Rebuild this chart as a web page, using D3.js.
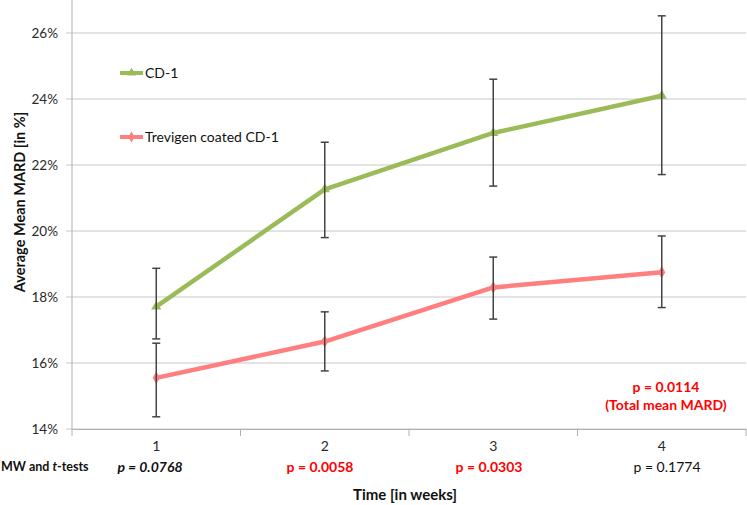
<!DOCTYPE html>
<html><head><meta charset="utf-8">
<script src="https://cdn.jsdelivr.net/npm/d3@7"></script>
<style>body{margin:0;background:#fff}svg{display:block;font-family:Lato,"Open Sans",sans-serif}</style>
</head><body><svg id="c" width="747" height="505"></svg>
<script>
const weeks = ["1","2","3","4"];
const cd1 = [17.71, 21.26, 22.97, 24.10];
const cd1High = [18.87, 22.69, 24.60, 26.52];
const cd1Low = [16.73, 19.80, 21.36, 21.71];
const trev = [15.55, 16.65, 18.29, 18.75];
const trevHigh = [16.60, 17.55, 19.21, 19.85];
const trevLow = [14.37, 15.76, 17.33, 17.68];
const yTicks = [14, 16, 18, 20, 22, 24, 26];
const pValues = ["p = 0.0768", "p = 0.0058", "p = 0.0303", "p = 0.1774"];
const pStyles = ["bi", "red", "red", "plain"];

const svg = d3.select("#c");
const x = d3.scaleBand().domain(weeks).range([72, 746]);
const y = d3.scaleLinear().domain([14, 27]).range([429, 0]);
const cx = w => x(w) + x.bandwidth() / 2;
const green = "#9bbb59", red = "#ff7f7f";

// gridlines
svg.append("g").selectAll("line").data(yTicks).join("line")
  .attr("x1", 66).attr("x2", 746).attr("y1", d => y(d)).attr("y2", d => y(d))
  .attr("stroke", "#c8c8c8").attr("stroke-width", 1);
// y axis line
svg.append("line").attr("x1", 72).attr("x2", 72).attr("y1", 0).attr("y2", 429)
  .attr("stroke", "#b0b0b0");
// y tick labels
svg.append("g").selectAll("text").data(yTicks).join("text")
  .attr("x", 58).attr("y", d => y(d)).attr("dy", "0.35em").attr("text-anchor", "end")
  .attr("font-size", 13.5).attr("fill", "#2a2a2a").text(d => d + "%");
// x axis
const xAxis = d3.axisBottom(x).tickSize(0).tickPadding(12);
const gx = svg.append("g").attr("transform", "translate(0,429)").call(xAxis);
gx.select(".domain").attr("stroke", "#b0b0b0");
gx.selectAll("text").attr("font-size", 14).attr("fill", "#2a2a2a").attr("font-family", "Lato,'Open Sans',sans-serif");
// category boundary ticks
const bounds = weeks.map(w => x(w)).concat([746]);
svg.append("g").selectAll("line").data(bounds).join("line")
  .attr("x1", d => d).attr("x2", d => d).attr("y1", 429).attr("y2", 436)
  .attr("stroke", "#b0b0b0");

// y axis title
svg.append("text").attr("transform", "translate(25,202) rotate(-90)")
  .attr("text-anchor", "middle").attr("font-size", 14.5).attr("font-weight", "bold")
  .attr("fill", "#111").text("Average Mean MARD [in %]");
// x axis title
svg.append("text").attr("x", 405).attr("y", 500).attr("text-anchor", "middle")
  .attr("font-size", 15).attr("font-weight", "bold").attr("fill", "#111").text("Time [in weeks]");

function series(vals, hi, lo, color, marker) {
  const g = svg.append("g");
  const line = d3.line().x((d, i) => cx(weeks[i])).y(d => y(d));
  g.append("path").datum(vals).attr("d", line).attr("fill", "none")
    .attr("stroke", color).attr("stroke-width", 4.5).attr("stroke-linejoin", "round");
  g.append("g").selectAll("path").data(vals).join("path")
    .attr("transform", (d, i) => `translate(${cx(weeks[i])},${y(d)})`)
    .attr("d", d3.symbol().type(marker).size(45)).attr("fill", color);
  const eb = g.append("g").attr("stroke", "#444").attr("stroke-width", 1.5);
  weeks.forEach((w, i) => {
    const X = cx(w);
    eb.append("line").attr("x1", X).attr("x2", X).attr("y1", y(hi[i])).attr("y2", y(lo[i]));
    eb.append("line").attr("x1", X - 4).attr("x2", X + 4).attr("y1", y(hi[i])).attr("y2", y(hi[i]));
    eb.append("line").attr("x1", X - 4).attr("x2", X + 4).attr("y1", y(lo[i])).attr("y2", y(lo[i]));
  });
}
series(cd1, cd1High, cd1Low, green, d3.symbolTriangle);
series(trev, trevHigh, trevLow, red, d3.symbolDiamond);

// legend
const legend = [{name: "CD-1", color: green, sym: d3.symbolTriangle, yy: 73},
                {name: "Trevigen coated CD-1", color: red, sym: d3.symbolDiamond, yy: 137}];
const lg = svg.append("g").selectAll("g").data(legend).join("g");
lg.append("line").attr("x1", 120).attr("x2", 143).attr("y1", d => d.yy).attr("y2", d => d.yy)
  .attr("stroke", d => d.color).attr("stroke-width", 4);
lg.append("path").attr("transform", d => `translate(131.5,${d.yy})`)
  .attr("d", d => d3.symbol().type(d.sym).size(35)()).attr("fill", d => d.color);
lg.append("text").attr("x", 145).attr("y", d => d.yy).attr("dy", "0.35em")
  .attr("font-size", 14).attr("fill", "#111").text(d => d.name);

// p-value row
svg.append("text").attr("x", 1).attr("y", 467).attr("dy", "0.35em").attr("font-size", 12.5)
  .attr("font-weight", "bold").attr("fill", "#111")
  .html('MW and <tspan font-style="italic">t</tspan>-tests');
const pxs = [150, 320, 489, 667];
svg.append("g").selectAll("text").data(pValues).join("text")
  .attr("x", (d, i) => pxs[i]).attr("y", 467).attr("dy", "0.35em").attr("text-anchor", "middle")
  .attr("font-size", 14)
  .attr("font-weight", (d, i) => pStyles[i] === "plain" ? "normal" : "bold")
  .attr("font-style", (d, i) => pStyles[i] === "bi" ? "italic" : "normal")
  .attr("fill", (d, i) => pStyles[i] === "red" ? "#ff0000" : "#111")
  .text(d => d);

// total annotation
svg.append("text").attr("x", 666).attr("y", 387).attr("dy", "0.35em").attr("text-anchor", "middle")
  .attr("font-size", 14).attr("font-weight", "bold").attr("fill", "#ff0000").text("p = 0.0114");
svg.append("text").attr("x", 666).attr("y", 405).attr("dy", "0.35em").attr("text-anchor", "middle")
  .attr("font-size", 14).attr("font-weight", "bold").attr("fill", "#ff0000").text("(Total mean MARD)");
</script></body></html>
